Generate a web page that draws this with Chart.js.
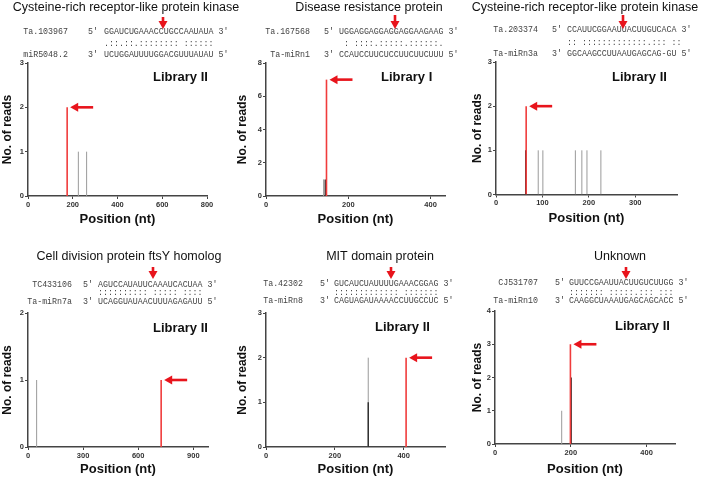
<!DOCTYPE html>
<html lang="en">
<head>
<meta charset="UTF-8" />
<title>Degradome tags along miRNA targets</title>
<script src="https://cdn.jsdelivr.net/npm/chart.js"></script>
<style>
  body { margin: 0; background: #fff; }
  #fig { position: relative; width: 704px; height: 478px; overflow: hidden; }
  #fig canvas { position: absolute; }
</style>
</head>
<body>
<div id="fig"></div>
<script>
// ---- data, one entry per panel ----
const titles = [
  "Cysteine-rich receptor-like protein kinase",
  "Disease resistance protein",
  "Cysteine-rich receptor-like protein kinase",
  "Cell division protein ftsY homolog",
  "MIT domain protein",
  "Unknown"
];
const libraries = ["Library II", "Library I", "Library II", "Library II", "Library II", "Library II"];
const targetIds = ["Ta.103967", "Ta.167568", "Ta.203374", "TC433106", "Ta.42302", "CJ531707"];
const mirnaIds = ["miR5048.2", "Ta-miRn1", "Ta-miRn3a", "Ta-miRn7a", "Ta-miRn8", "Ta-miRn10"];
const targetSeqs = [
  "GGAUCUGAAACCUGCCAAUAUA",
  "UGGAGGAGGAGGAGGAAGAAG",
  "CCAUUCGGAAUUACUUGUCACA",
  "AGUCCAUAUUCAAAUCACUAA",
  "GUCAUCUAUUUUGAAACGGAG",
  "GUUCCGAAUUACUUGUCUUGG"
];
const pairLines = [
  ".::.::.:::::::: ::::::",
  " : ::::.:::::.::::::.",
  ":: :::::::::::::.::: ::",
  ":::::::::: ::::: ::::",
  "::::::::::::: :::::::",
  "::::::: :::::.::: :::"
];
const mirnaSeqs = [
  "UCUGGAUUUUGGACGUUUAUAU",
  "CCAUCCUUCUCCUUCUUCUUU",
  "GGCAAGCCUUAAUGAGCAG-GU",
  "UCAGGUAUAACUUUAGAGAUU",
  "CAGUAGAUAAAACCUUGCCUC",
  "CAAGGCUAAAUGAGCAGCACC"
];

// cleavage site tag (red) per panel
const sitePos = [175, 147, 65, 725, 407, 199];
const siteReads = [2, 7, 2, 1, 2, 3];
// other tags, dark lines
const darkPos = [[], [144], [64], [], [297], [201]];
const darkReads = [[], [1], [1], [], [1], [2]];
// other tags, grey lines
const greyPos = [[225, 262], [140], [91, 101, 171, 185, 196, 226], [47], [297], [176]];
const greyReads = [[1, 1], [1], [1, 1, 1, 1, 1, 1], [1], [2], [1]];

// axis ranges and tick labels
const xMax = [800, 435, 390, 980, 520, 475];
const xTicks = [
  [0, 200, 400, 600, 800],
  [0, 200, 400],
  [0, 100, 200, 300],
  [0, 300, 600, 900],
  [0, 200, 400],
  [0, 200, 400]
];
const yMax = [3, 8, 3, 2, 3, 4];
const yStep = [1, 2, 1, 1, 1, 1];

// ---- layout of each panel (pixels) ----
const frames = [
  { x: 0, y: 0, w: 235, h: 240, left: 28, right: 207, top: 63, bottom: 196, xTitleY: 219,
    titleX: 126, titleY: 8, rows: [32, 43.5, 55], idRight: 68, primeX: 88, seqX: 104, cutX: 163, cutTop: 17, cutTip: 29, libX: 153, libY: 77 },
  { x: 235, y: 0, w: 235, h: 240, left: 31, right: 210, top: 63, bottom: 196, xTitleY: 219,
    titleX: 134, titleY: 8, rows: [32, 43.5, 55], idRight: 75, primeX: 89, seqX: 104, cutX: 160, cutTop: 15, cutTip: 29, libX: 146, libY: 77 },
  { x: 470, y: 0, w: 234, h: 240, left: 26, right: 207, top: 62, bottom: 194.5, xTitleY: 218,
    titleX: 115, titleY: 8, rows: [30, 42.5, 54], idRight: 68, primeX: 82, seqX: 97, cutX: 153, cutTop: 15, cutTip: 29, libX: 142, libY: 77 },
  { x: 0, y: 240, w: 235, h: 238, left: 28, right: 208, top: 73, bottom: 207, xTitleY: 229,
    titleX: 129, titleY: 17, rows: [45, 53, 62], idRight: 72, primeX: 83, seqX: 98, cutX: 153, cutTop: 27, cutTip: 39, libX: 153, libY: 88 },
  { x: 235, y: 240, w: 235, h: 238, left: 31, right: 210, top: 73, bottom: 207, xTitleY: 229,
    titleX: 145, titleY: 17, rows: [43.5, 53, 61], idRight: 68, primeX: 85, seqX: 99, cutX: 156, cutTop: 27, cutTip: 39, libX: 140, libY: 87 },
  { x: 470, y: 240, w: 234, h: 238, left: 25, right: 205, top: 71, bottom: 204, xTitleY: 229,
    titleX: 150, titleY: 17, rows: [43, 52.5, 61], idRight: 68, primeX: 85, seqX: 99, cutX: 156, cutTop: 27, cutTip: 39, libX: 145, libY: 86 }
];
const OVERHANG = 10; // lets a long title run past its panel edge

const RED = "#e8141c";
const MONO = "8.3px 'Liberation Mono', 'DejaVu Sans Mono', monospace";

function arrow(ctx, x1, y1, x2, y2) {
  // tail (x1,y1) -> tip (x2,y2)
  const a = Math.atan2(y2 - y1, x2 - x1);
  const len = 8, half = 4.5;
  const bx = x2 - len * Math.cos(a), by = y2 - len * Math.sin(a);
  ctx.save();
  ctx.strokeStyle = RED;
  ctx.fillStyle = RED;
  ctx.lineWidth = 2.6;
  ctx.beginPath();
  ctx.moveTo(x1, y1);
  ctx.lineTo(bx + Math.cos(a), by + Math.sin(a));
  ctx.stroke();
  ctx.beginPath();
  ctx.moveTo(x2, y2);
  ctx.lineTo(bx - half * Math.sin(a), by + half * Math.cos(a));
  ctx.lineTo(bx + half * Math.sin(a), by - half * Math.cos(a));
  ctx.closePath();
  ctx.fill();
  ctx.restore();
}

const decor = {
  id: "decor",
  afterDraw(chart, args, opts) {
    const i = opts.panel;
    const f = frames[i];
    const ctx = chart.ctx;
    ctx.save();
    ctx.textBaseline = "middle";

    // panel title
    ctx.fillStyle = "#111";
    ctx.font = "12.5px 'Liberation Sans', Arial, sans-serif";
    ctx.textAlign = "center";
    ctx.fillText(titles[i], f.titleX, f.titleY);

    // target / miRNA alignment
    ctx.font = MONO;
    ctx.fillStyle = "#444";
    ctx.textAlign = "right";
    ctx.fillText(targetIds[i], f.idRight, f.rows[0]);
    ctx.fillText(mirnaIds[i], f.idRight, f.rows[2]);
    ctx.textAlign = "left";
    ctx.fillText("5'", f.primeX, f.rows[0]);
    ctx.fillText("3'", f.primeX, f.rows[2]);
    ctx.fillText(targetSeqs[i] + " 3'", f.seqX, f.rows[0]);
    ctx.fillText(pairLines[i], f.seqX, f.rows[1]);
    ctx.fillText(mirnaSeqs[i] + " 5'", f.seqX, f.rows[2]);

    // cleavage arrow above alignment
    arrow(ctx, f.cutX, f.cutTop, f.cutX, f.cutTip);

    // library label
    ctx.fillStyle = "#111";
    ctx.font = "bold 13px 'Liberation Sans', Arial, sans-serif";
    ctx.fillText(libraries[i], f.libX, f.libY);

    // arrow pointing at the cleavage tag
    const px = chart.scales.x.getPixelForValue(sitePos[i]);
    const py = chart.scales.y.getPixelForValue(siteReads[i]);
    arrow(ctx, px + 26, py, px + 3, py);
    ctx.restore();
  }
};

function spike(pos, reads, color, width) {
  return {
    data: [{ x: pos, y: 0 }, { x: pos, y: reads }],
    borderColor: color,
    borderWidth: width,
    pointRadius: 0,
    showLine: true,
    fill: false
  };
}

const fig = document.getElementById("fig");
frames.forEach((f, i) => {
  const cw = f.w + OVERHANG;
  const canvas = document.createElement("canvas");
  canvas.width = cw;
  canvas.height = f.h;
  canvas.style.left = f.x + "px";
  canvas.style.top = f.y + "px";
  canvas.style.width = cw + "px";
  canvas.style.height = f.h + "px";
  fig.appendChild(canvas);

  const xTitleSize = 13;
  const axH = f.xTitleY + xTitleSize * 0.6 - f.bottom;
  const datasets = [spike(sitePos[i], siteReads[i], "#f03c3c", 1.6)];
  darkPos[i].forEach((p, k) => datasets.push(spike(p, darkReads[i][k], "#2a2a2a", 1.4)));
  greyPos[i].forEach((p, k) => datasets.push(spike(p, greyReads[i][k], "#9a9a9a", 1)));

  const axisFont = { family: "'Liberation Sans', Arial, sans-serif", size: 7.5, weight: "bold" };
  new Chart(canvas, {
    type: "scatter",
    data: { datasets },
    options: {
      responsive: false,
      animation: false,
      layout: { padding: { left: 0, top: f.top, right: cw - f.right, bottom: f.h - f.bottom - axH } },
      plugins: {
        legend: { display: false },
        tooltip: { enabled: false },
        decor: { panel: i }
      },
      scales: {
        x: {
          type: "linear",
          min: 0,
          max: xMax[i],
          bounds: "data",
          ticks: { font: axisFont, color: "#333", padding: 1, maxRotation: 0 },
          afterBuildTicks: (s) => { s.ticks = xTicks[i].map((v) => ({ value: v })); },
          grid: { drawOnChartArea: false, tickLength: 3, color: "#444" },
          border: { color: "#444", width: 1.5 },
          title: {
            display: true, text: "Position (nt)", color: "#111", padding: 0,
            font: { family: "'Liberation Sans', Arial, sans-serif", size: xTitleSize, weight: "bold" }
          },
          afterFit: (s) => { s.height = axH; }
        },
        y: {
          min: 0,
          max: yMax[i],
          ticks: { stepSize: yStep[i], font: axisFont, color: "#333", padding: 1 },
          grid: { drawOnChartArea: false, tickLength: 3, color: "#444" },
          border: { color: "#444", width: 1.5 },
          title: {
            display: true, text: "No. of reads", color: "#111", padding: 0,
            font: { family: "'Liberation Sans', Arial, sans-serif", size: 12, weight: "bold" }
          },
          afterFit: (s) => { s.width = f.left; }
        }
      }
    },
    plugins: [decor]
  });
});
</script>
</body>
</html>
